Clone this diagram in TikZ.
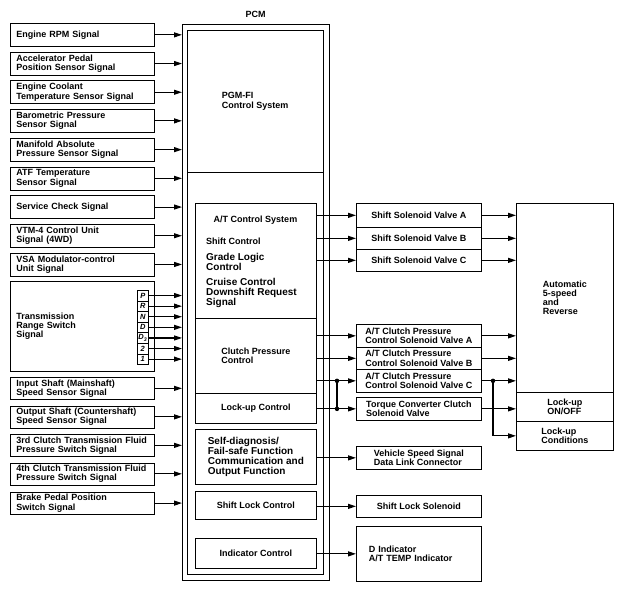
\documentclass[tikz,border=0pt]{standalone}
\usepackage{fontspec}
\setmainfont{Liberation Sans}
\usetikzlibrary{arrows.meta,positioning}
\newcommand\sigfont{\fontsize{9}{9.2}\selectfont\bfseries}
\newcommand\bigfont{\fontsize{10}{10}\selectfont\bfseries}
\newcommand\gearfont{\fontsize{7.5}{7.5}\selectfont\bfseries\itshape}

\begin{document}
\begin{tikzpicture}[
  x=1pt, y=-1pt,
  box/.style={draw, line width=0.7pt, anchor=north west, inner sep=0pt,
    font=\sigfont, align=center},
  sig/.style={box, text width=132pt, inner xsep=6pt, align=left,
    minimum height=23pt},
  sub/.style={box, minimum width=121pt},
  outbox/.style={box, minimum width=125pt},
  gearbox/.style={draw, line width=0.5pt, anchor=north west, inner sep=0pt,
    minimum width=11pt, minimum height=10.6pt, font=\gearfont},
  txt/.style={inner sep=0pt, font=\sigfont, align=left},
  arr/.style={-{Triangle[length=8pt,width=5pt]}, line width=1.1pt},
  dot/.style={fill, circle, inner sep=0pt, minimum size=4.5pt}
]
  \useasboundingbox (0,0) rectangle (623,591);

  % input signals
  \node[sig] (rpm) at (10,23) {Engine RPM Signal};
  \node[sig] (app) at (10,51.7) {Accelerator Pedal\\Position Sensor Signal};
  \node[sig] (ect) at (10,80.4) {Engine Coolant\\Temperature Sensor Signal};
  \node[sig] (baro) at (10,109) {Barometric Pressure\\Sensor Signal};
  \node[sig] (map) at (10,137.8) {Manifold Absolute\\Pressure Sensor Signal};
  \node[sig] (atf) at (10,166.5) {ATF Temperature\\Sensor Signal};
  \node[sig] (svc) at (10,195.2) {Service Check Signal};
  \node[sig] (vtm) at (10,223.9) {VTM-4 Control Unit\\Signal (4WD)};
  \node[sig] (vsa) at (10,252.6) {VSA Modulator-control\\Unit Signal};
  \node[sig, minimum height=90pt] (trs) at (10,281) {Transmission\\Range Switch\\Signal};
  \node[sig, minimum height=22pt] (inshaft) at (10,377) {Input Shaft (Mainshaft)\\Speed Sensor Signal};
  \node[sig, minimum height=22pt] (outshaft) at (10,405.5) {Output Shaft (Countershaft)\\Speed Sensor Signal};
  \node[sig, minimum height=22pt] (clutchthree) at (10,434) {3rd Clutch Transmission Fluid\\Pressure Switch Signal};
  \node[sig, minimum height=22pt] (clutchfour) at (10,462.5) {4th Clutch Transmission Fluid\\Pressure Switch Signal};
  \node[sig, minimum height=22.5pt] (brake) at (10,491.5) {Brake Pedal Position\\Switch Signal};

  % PCM
  \node[box, minimum width=147pt, minimum height=556pt] (pcm) at (182,24) {};
  \node[font=\sigfont, inner sep=0pt] (pcmlbl) at (255.5,14) {PCM};
  \node[box, minimum width=135.5pt, minimum height=543.5pt] (pcmin) at (187,30) {};
  \node[box, minimum width=135.5pt, minimum height=142pt, align=left] (pgm) at (187,30) {PGM-FI\\Control System};

  \node[sub, minimum height=115pt] (atsys) at (195,203) {};
  \node[txt] (atsyslbl) at (255.5,220) {A/T Control System};
  \node[txt, anchor=west] (shiftctl) at (206,241) {Shift Control};
  \node[txt, anchor=west, font=\bigfont] (grade) at (206,261.5) {Grade Logic\\Control};
  \node[txt, anchor=west, font=\bigfont] (cruise) at (206,293) {Cruise Control\\Downshift Request\\Signal};
  \node[sub, minimum height=75pt, align=left] (cpc) at (195,318) {Clutch Pressure\\Control};
  \node[sub, minimum height=30pt] (luc) at (195,393) {Lock-up Control};
  \node[sub, minimum height=55pt, align=left, font=\bigfont] (selfdiag) at (195,429)
    {Self-diagnosis/\\Fail-safe Function\\Communication and\\Output Function};
  \node[sub, minimum height=28pt] (shiftlock) at (195,491) {Shift Lock Control};
  \node[sub, minimum height=30pt] (indctl) at (195,538) {Indicator Control};

  % outputs
  \node[outbox, minimum height=24pt] (ssa) at (356,203) {Shift Solenoid Valve A};
  \node[outbox, minimum height=22pt] (ssb) at (356,227) {Shift Solenoid Valve B};
  \node[outbox, minimum height=22pt] (ssc) at (356,249) {Shift Solenoid Valve C};
  \node[outbox, minimum height=23pt, align=left] (cpva) at (356,324) {A/T Clutch Pressure\\Control Solenoid Valve A};
  \node[outbox, minimum height=22pt, align=left] (cpvb) at (356,347) {A/T Clutch Pressure\\Control Solenoid Valve B};
  \node[outbox, minimum height=23pt, align=left] (cpvc) at (356,369) {A/T Clutch Pressure\\Control Solenoid Valve C};
  \node[outbox, minimum height=23pt, align=left] (tcc) at (356,397) {Torque Converter Clutch\\Solenoid Valve};
  \node[outbox, minimum height=23pt, align=left] (vss) at (356,446) {Vehicle Speed Signal\\Data Link Connector};
  \node[outbox, minimum height=22pt] (sls) at (356,495) {Shift Lock Solenoid};
  \node[box, minimum width=125pt, minimum height=55pt, text width=100pt, align=left] (dind) at (356,526)
    {D Indicator\\A/T TEMP Indicator};

  \node[box, minimum width=97pt, minimum height=189pt, align=left] (auto) at (516,203) {Automatic\\5-speed\\and\\Reverse};
  \node[box, minimum width=97pt, minimum height=29pt, align=left] (luon) at (516,392) {Lock-up\\ON/OFF};
  \node[box, minimum width=97pt, minimum height=29pt, align=left] (lucond) at (516,421) {Lock-up\\Conditions};

  % range switch positions
  \foreach \g [count=\i] in {P,R,N,D,{D\textsubscript{3}},2,1} {
    \node[gearbox] (gear\i) at (137,{290+(\i-1)*10.6}) {\g};
    \draw[arr] (gear\i.east) -- (gear\i.east -| pcm.west);
  }

  \foreach \n in {rpm,app,ect,baro,map,atf,svc,vtm,vsa,inshaft,outshaft,clutchthree,clutchfour,brake}
    \draw[arr] (\n.east) -- (\n.east -| pcm.west);

  \foreach \n in {ssa,ssb,ssc} {
    \draw[arr] (\n.west -| atsys.east) -- (\n.west);
    \draw[arr] (\n.east) -- (\n.east -| auto.west);
  }
  \foreach \n in {cpva,cpvb,cpvc}
    \draw[arr] (\n.west -| cpc.east) -- (\n.west);
  \draw[arr] (tcc.west -| luc.east) -- (tcc.west);
  \draw[arr] (vss.west -| selfdiag.east) -- (vss.west);
  \draw[arr] (sls.west -| shiftlock.east) -- (sls.west);
  \draw[arr] (dind.west -| indctl.east) -- (dind.west);

  \coordinate (jx) at (337,0);
  \coordinate (ja) at (jx |- cpvc.west);
  \coordinate (jb) at (jx |- tcc.west);
  \draw[line width=1.1pt] (ja) -- (jb);
  \node[dot] (dota) at (ja) {};
  \node[dot] (dotb) at (jb) {};

  \draw[arr] (cpva.east) -- (cpva.east -| auto.west);
  \draw[arr] (cpvb.east) -- (cpvb.east -| auto.west);
  \draw[arr] (cpvc.east) -- (cpvc.east -| auto.west);
  \draw[arr] (tcc.east) -- (tcc.east -| luon.west);
  \coordinate (jy) at (493,0);
  \coordinate (jc) at (jy |- cpvc.east);
  \draw[arr] (jc) |- (lucond.west);
  \node[dot] (dotc) at (jc) {};
\end{tikzpicture}
\end{document}
